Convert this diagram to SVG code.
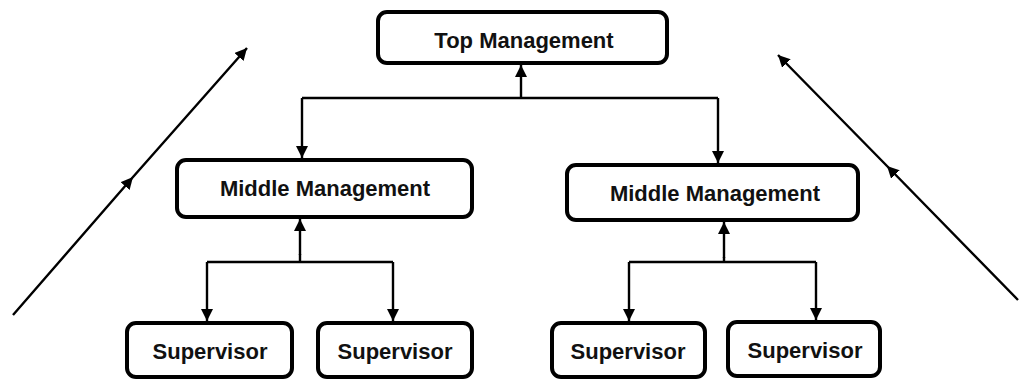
<svg xmlns="http://www.w3.org/2000/svg" width="1019" height="379" viewBox="0 0 1019 379">
<style>
.box{fill:#fff;stroke:#000;stroke-width:4}
.lbl{font-family:"Liberation Sans",Arial,sans-serif;font-weight:bold;font-size:22px;fill:#111;text-anchor:middle}
.ln{fill:none;stroke:#000;stroke-width:2.4}
.arr{marker-end:url(#ah)}
</style>
<defs>
<marker id="ah" markerUnits="userSpaceOnUse" markerWidth="12" markerHeight="12" viewBox="0 0 12 12" refX="12" refY="6" orient="auto">
<path d="M0,0 L12,6 L0,12 z" fill="#000"/>
</marker>
</defs>
<rect width="1019" height="379" fill="#fff"/>
<g id="connectors">
<path class="ln" d="M13 315 L133 177 L247 48" marker-mid="url(#ah)" marker-end="url(#ah)"/>
<path class="ln" d="M1018 300 L887 166 L778 55" marker-mid="url(#ah)" marker-end="url(#ah)"/>
<path class="ln arr" d="M521 98 V65"/>
<path class="ln" d="M302 98 H718"/>
<path class="ln arr" d="M302 98 V158"/>
<path class="ln arr" d="M718 98 V163"/>
<path class="ln arr" d="M300 255 V219"/>
<path class="ln" d="M300 254 V262 M207 262 H393"/>
<path class="ln arr" d="M207 262 V321"/>
<path class="ln arr" d="M393 262 V321"/>
<path class="ln arr" d="M724 258 V222"/>
<path class="ln" d="M724 257 V262 M629 262 H816"/>
<path class="ln arr" d="M629 262 V321"/>
<path class="ln arr" d="M816 262 V320"/>
</g>
<g id="top">
<rect class="box" x="378" y="12" width="289" height="51" rx="9"/>
<text class="lbl" x="524" y="48">Top Management</text>
</g>
<g id="mid-left">
<rect class="box" x="177" y="160" width="295" height="57" rx="9"/>
<text class="lbl" x="325" y="196">Middle Management</text>
</g>
<g id="mid-right">
<rect class="box" x="567" y="165" width="291" height="55" rx="9"/>
<text class="lbl" x="715" y="201">Middle Management</text>
</g>
<g id="sup1">
<rect class="box" x="127" y="323" width="165" height="54" rx="9"/>
<text class="lbl" x="210" y="359">Supervisor</text>
</g>
<g id="sup2">
<rect class="box" x="318" y="323" width="154" height="54" rx="9"/>
<text class="lbl" x="395" y="359">Supervisor</text>
</g>
<g id="sup3">
<rect class="box" x="552" y="323" width="153" height="54" rx="9"/>
<text class="lbl" x="628" y="359">Supervisor</text>
</g>
<g id="sup4">
<rect class="box" x="728" y="322" width="152" height="54" rx="9"/>
<text class="lbl" x="805" y="358">Supervisor</text>
</g>
</svg>
